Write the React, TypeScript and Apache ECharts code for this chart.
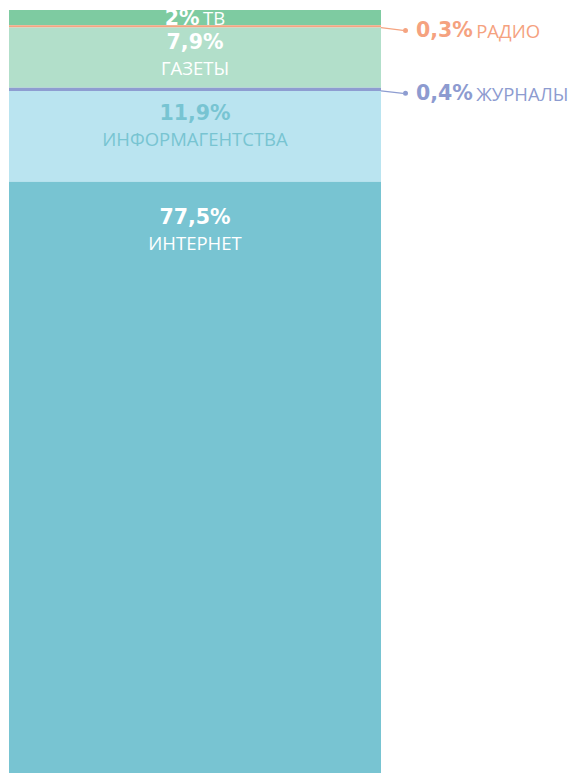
import React, { useEffect, useRef } from "react";
import * as echarts from "echarts";

const categories = ["ТВ", "РАДИО", "ГАЗЕТЫ", "ЖУРНАЛЫ", "ИНФОРМАГЕНТСТВА", "ИНТЕРНЕТ"];
const values = [2, 0.3, 7.9, 0.4, 11.9, 77.5];
const valueLabels = ["2%", "0,3%", "7,9%", "0,4%", "11,9%", "77,5%"];
const fillColors = ["#7ecba1", "#f5a481", "#b2dfca", "#8e9dd1", "#bae4f0", "#78c4d2"];
const textColors = ["#ffffff", "#f5a27f", "#ffffff", "#8d9bd0", "#78c4d2", "#ffffff"];
const insideTopDistance = [0, 0, 1, 0, 9, 22];

export default function App() {
  const ref = useRef<HTMLDivElement>(null);
  useEffect(() => {
    if (!ref.current) return;
    const chart = echarts.init(ref.current, null, { renderer: "svg" });
    const series = values.map((v, i) => {
      const tc = textColors[i];
      const rich = {
        b: { fontFamily: "DejaVu Sans", fontWeight: "bold", fontSize: 20.5, color: tc, lineHeight: 26 },
        n: { fontFamily: "Open Sans", fontWeight: 400, fontSize: 18.5, color: tc, lineHeight: 26 },
        d: { width: 5, height: 5, borderRadius: 3, backgroundColor: fillColors[i] },
        s: { width: 8 },
      };
      const base: any = {
        type: "bar",
        name: categories[i],
        stack: "total",
        data: [v],
        barWidth: "100%",
        itemStyle: { color: fillColors[i] },
      };
      if (i === 0) {
        base.label = {
          show: true,
          position: "inside",
          formatter: `{b|${valueLabels[i]}} {n|${categories[i]}}`,
          rich,
        };
      } else if (i === 1 || i === 3) {
        base.label = {
          show: true,
          position: "right",
          formatter: `{d|}{s|}{b|${valueLabels[i]}} {n|${categories[i]}}`,
          rich,
        };
        base.labelLayout = (params: any) => ({
          x: params.rect.x + params.rect.width + 22,
          y: params.rect.y + params.rect.height / 2 + 4,
          align: "left",
          verticalAlign: "middle",
        });
        base.labelLine = { show: true, length2: 0, lineStyle: { color: fillColors[i], width: 1.2 } };
      } else {
        base.label = {
          show: true,
          position: "insideTop",
          distance: insideTopDistance[i],
          formatter: `{b|${valueLabels[i]}}\n{n|${categories[i]}}`,
          rich,
        };
      }
      return base;
    });
    chart.setOption({
      animation: false,
      grid: { left: 9, top: 10, width: 372, height: 763 },
      xAxis: { type: "category", data: ["Источники"], show: false },
      yAxis: { type: "value", min: 0, max: 100, inverse: true, show: false },
      series,
    });
    return () => chart.dispose();
  }, []);
  return (
    <div
      ref={ref}
      style={{ position: "fixed", left: 0, top: 0, width: 577, height: 774, background: "#ffffff" }}
    />
  );
}
